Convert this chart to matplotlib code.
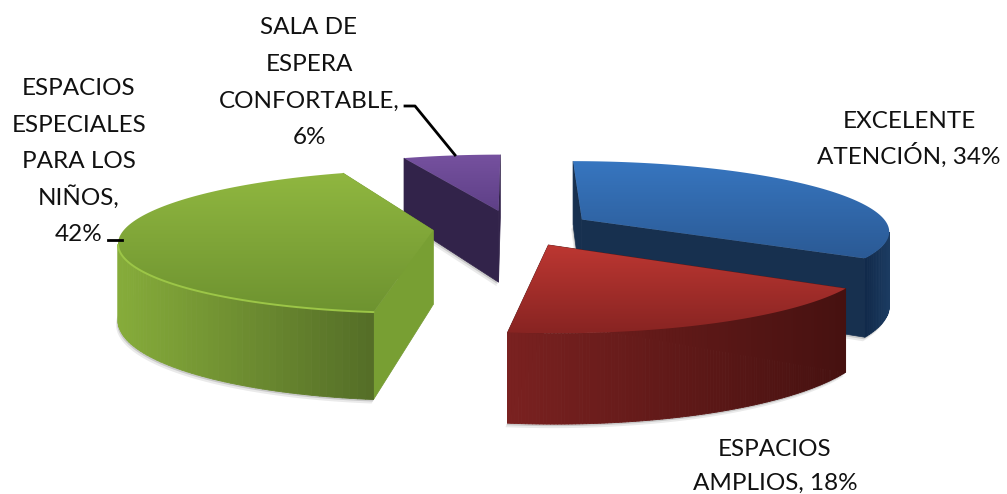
import numpy as np
import matplotlib
matplotlib.use('Agg')
import matplotlib.pyplot as plt
from matplotlib.patches import Polygon
from matplotlib.colors import to_rgb, LinearSegmentedColormap
from matplotlib.collections import PolyCollection

# --- datos ---
categorias = ['EXCELENTE\nATENCIÓN', 'ESPACIOS\nAMPLIOS', 'ESPACIOS\nESPECIALES\nPARA LOS\nNIÑOS', 'SALA DE\nESPERA\nCONFORTABLE']
porcentajes = [34, 18, 42, 6]
etiquetas_sep = [' ', ' ', '\n', '\n']

# estilo por porcion: arriba (atras, adelante), pared exterior (izq, der), pared radial
color_top = [('#3776c0', '#2b5a95'), ('#bd3732', '#882422'), ('#90b740', '#6e9330'), ('#76519f', '#5e4087')]
color_wall = [('#10294a', '#1c3c62'), ('#7a2120', '#461110'), ('#86ac3a', '#546d27'), ('#32234a', '#32234a')]
color_radial = ['#17304f', '#5a1817', '#789f33', '#32234a']
# x del centro, base de la primera linea, paso entre lineas
pos_etiqueta = [(909, 128, 36), (775, 456, 34), (79, 95, 36.5), (309, 34, 36.7)]

# --- perspectiva (en pixeles de la imagen) ---
VX = 513
Y0 = -235
YB = 463
K = 0.15
RADIO = 308
EXPLODE = 0.26
GROSOR = 74


def proyectar(x, d, abajo=False):
    s = 1 / (1 + K * d)
    return VX + x * s, Y0 + YB * s + (GROSOR * s if abajo else 0)


def gradiente(ax, poly, c1, c2, horizontal=False):
    cmap = LinearSegmentedColormap.from_list('g', [c1, c2])
    xs, ys = poly[:, 0], poly[:, 1]
    grad = np.linspace(0, 1, 200)
    grad = grad.reshape(1, -1) if horizontal else grad.reshape(-1, 1)
    im = ax.imshow(grad, cmap=cmap, aspect='auto', zorder=ax.zactual,
                   extent=(xs.min(), xs.max(), ys.max(), ys.min()), interpolation='bilinear')
    im.set_clip_path(Polygon(poly, transform=ax.transData))
    ax.zactual += 1


def dibujar_porcion(ax, ini, fin, c_top, c_wall, c_rad, brillo=None):
    medio = (ini + fin) / 2
    # centro desplazado sobre la bisectriz
    cx = EXPLODE * RADIO * np.sin(medio)
    cd = EXPLODE * np.cos(medio)
    th = np.linspace(ini, fin, 120)
    xr = cx + RADIO * np.sin(th)
    dr = cd + np.cos(th)

    # sombra suave de la base
    bx, by = proyectar(xr, dr, abajo=True)
    ax_, ay_ = proyectar(cx, cd, abajo=True)
    sombra = np.column_stack([np.r_[ax_, bx], np.r_[ay_, by]])
    for off, alpha in ((4, 0.12), (2, 0.22)):
        ax.add_patch(Polygon(sombra + [-off / 2, off], closed=True, fc='#555555', ec='none', alpha=alpha, zorder=ax.zactual))
    ax.zactual += 1

    # paredes radiales
    for ang in (ini, fin):
        x1 = cx + RADIO * np.sin(ang)
        d1 = cd + np.cos(ang)
        p = [proyectar(cx, cd), proyectar(x1, d1), proyectar(x1, d1, True), proyectar(cx, cd, True)]
        ax.add_patch(Polygon(p, closed=True, fc=c_rad, ec=c_rad, lw=0.5, zorder=ax.zactual))
    ax.zactual += 1

    # pared exterior, solo lo que mira a la camara
    cam = -1 / K
    visibles = (0 - xr) * np.sin(th) + (cam - dr) * RADIO * np.cos(th) > 0
    if visibles.sum() > 1:
        idx = np.where(visibles)[0]
        c1, c2 = np.array(to_rgb(c_wall[0])), np.array(to_rgb(c_wall[1]))
        tx, ty = proyectar(xr, dr)
        bx, by = proyectar(xr, dr, True)
        quads, cols = [], []
        xmin, xmax = tx[idx].min(), tx[idx].max()
        for a, b in zip(idx[:-1], idx[1:]):
            quads.append([(tx[a], ty[a]), (tx[b], ty[b]), (bx[b], by[b]), (bx[a], by[a])])
            f = ((tx[a] + tx[b]) / 2 - xmin) / (xmax - xmin)
            cols.append(c1 + (c2 - c1) * f)
        ax.add_collection(PolyCollection(quads, facecolors=cols, edgecolors=cols, linewidths=0.6, zorder=ax.zactual))
        ax.zactual += 1

    # cara superior
    tx, ty = proyectar(xr, dr)
    ox, oy = proyectar(cx, cd)
    poly = np.column_stack([np.r_[ox, tx], np.r_[oy, ty]])
    gradiente(ax, poly, c_top[0], c_top[1])

    if brillo:
        ax.plot(tx[visibles], ty[visibles], color=brillo, lw=1.4, zorder=ax.zactual, solid_capstyle='round')
        ax.zactual += 1


fig = plt.figure(figsize=(10.07, 4.94), dpi=100)
ax = fig.add_axes([0, 0, 1, 1])
ax.zactual = 1

fracciones = np.array(porcentajes) / sum(porcentajes)
bordes = np.r_[0, np.cumsum(fracciones)] * 2 * np.pi

# orden de pintado: atras hacia adelante
brillos = {2: '#9cc647'}
for i in [3, 0, 2, 1]:
    dibujar_porcion(ax, bordes[i], bordes[i + 1], color_top[i], color_wall[i], color_radial[i], brillos.get(i))

# lineas guia
ax.plot([108, 122], [240, 240], color='black', lw=2, zorder=200)
ax.plot([405, 415, 455], [106, 106, 155], color='black', lw=2, zorder=200)

# etiquetas, linea por linea para que el paso sea parejo
plt.rcParams['font.family'] = ['Lato', 'DejaVu Sans']
for cat, pct, sep, (x, y, paso) in zip(categorias, porcentajes, etiquetas_sep, pos_etiqueta):
    lineas = f'{cat},{sep}{pct}%'.split('\n')
    for n, linea in enumerate(lineas):
        ax.text(x, y + n * paso, linea, ha='center', va='baseline', fontsize=17.5, color='#111111', zorder=210)

ax.set_xlim(0, 1007)
ax.set_ylim(494, 0)
ax.axis('off')

fig.savefig('out.png', dpi=100, facecolor='white')
